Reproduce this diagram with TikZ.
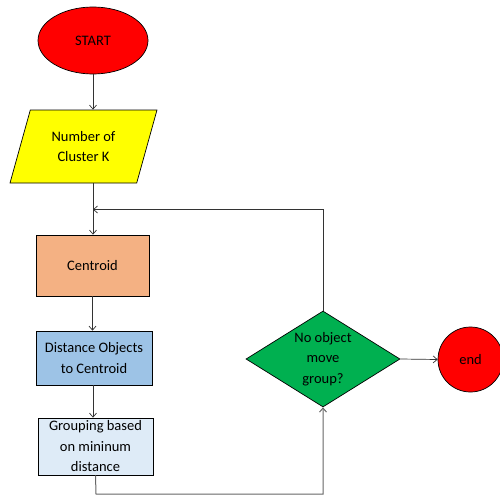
\documentclass[tikz,border=0pt]{standalone}
\usepackage{fontspec}
\setmainfont{Carlito}
\usepackage{tikz}
\usetikzlibrary{positioning, shapes.geometric, arrows.meta}

\definecolor{startred}{HTML}{FF0000}
\definecolor{inputyellow}{HTML}{FFFF00}
\definecolor{centroidorange}{HTML}{F4B183}
\definecolor{distanceblue}{HTML}{9DC3E6}
\definecolor{groupblue}{HTML}{DEEBF7}
\definecolor{decisiongreen}{HTML}{00B050}

\begin{document}
\begin{tikzpicture}[x=1pt, y=-1pt, every node/.style={draw=black, line width=0.7pt, inner sep=1pt, align=center, font=\fontsize{14.5}{20.5}\selectfont},
    terminal/.style={ellipse, fill=startred},
    inputbox/.style={trapezium, trapezium left angle=69, trapezium right angle=111, trapezium stretches=true, fill=inputyellow, minimum width=147pt, minimum height=73pt},
    processbox/.style={rectangle},
    decisionbox/.style={diamond, aspect=1.6, inner sep=0pt, fill=decisiongreen, minimum width=154pt, minimum height=96pt},
    flow/.style={draw=black!80, line width=0.7pt, -{Straight Barb[length=4pt, width=7pt]}}]
        \useasboundingbox (0,0) rectangle (500,495);

        \node (start) [terminal, minimum width=110pt, minimum height=67pt] at (93,40.5) {START};
        \node (input) [inputbox] at (83.5,146.5) {Number of\\Cluster K};
        \node (centroid) [processbox, fill=centroidorange, minimum width=113pt, minimum height=61pt] at (92.5,265.5) {Centroid};
        \node (distance) [processbox, fill=distanceblue, minimum width=116pt, minimum height=54pt] at (94,358) {Distance Objects\\to Centroid};
        \node (grouping) [processbox, fill=groupblue, minimum width=115pt, minimum height=57pt] at (95.5,446.5) {Grouping based\\on mininum\\distance};
        \node (decision) [decisionbox] at (323,359) {No object\\move\\group?};
        \node (finish) [terminal, circle, minimum size=65pt] at (470.5,359.5) {end};

        \coordinate (merge) at (93,209.5);
        \coordinate (low) at (96,494);

        \draw[flow] (start) -- (start |- input.north);
        \draw[flow] (start |- input.south) -- (centroid.north -| start);
        \draw[flow] (decision.north) |- (merge);
        \draw[flow] (centroid.south) -- (centroid.south |- distance.north);
        \draw[flow] (distance.south -| start) -- (grouping.north -| start);
        \draw[flow, draw=black!60, line width=1pt] (grouping.south) -- (low) -| (decision.south);
        \draw[flow] (decision.east) -- (finish.west);
    \end{tikzpicture}
\end{document}
